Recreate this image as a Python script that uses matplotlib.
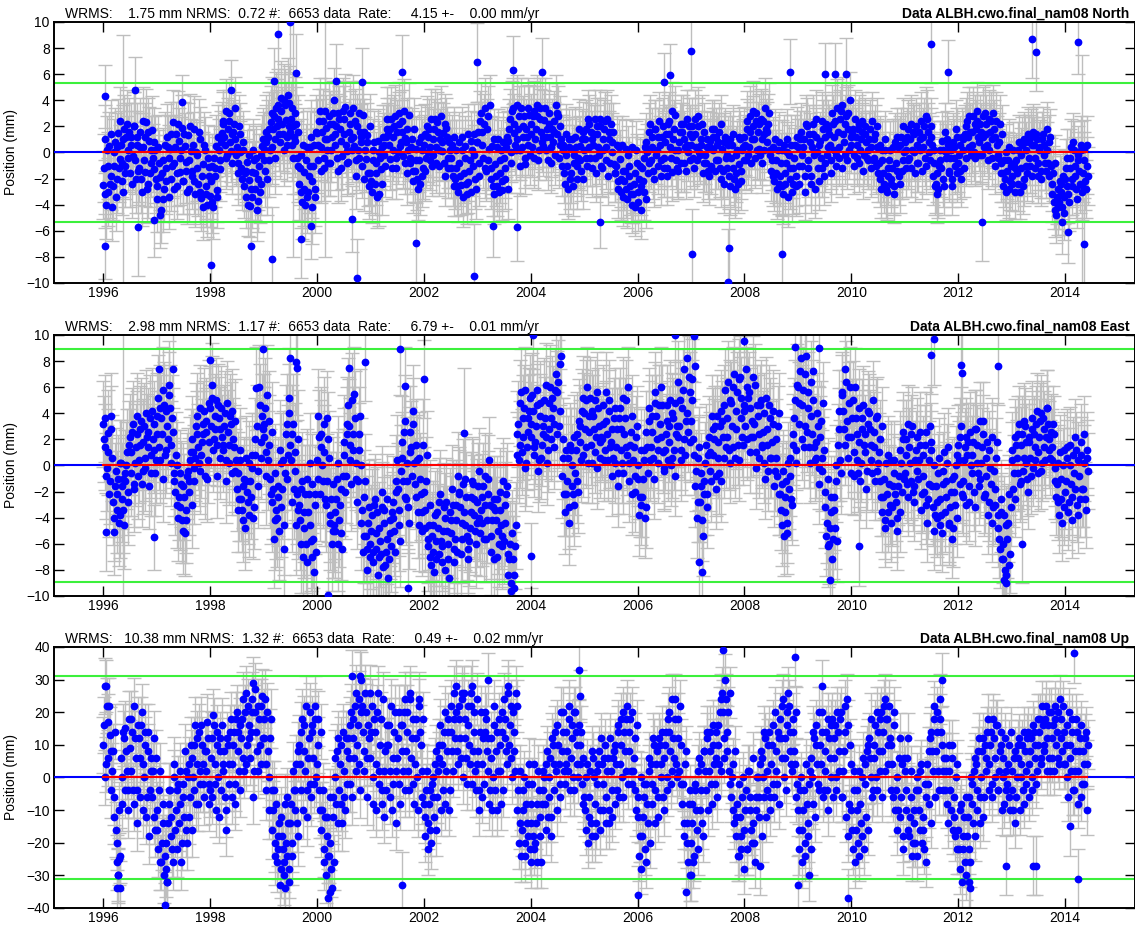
import numpy as np
import matplotlib
matplotlib.use('Agg')
import matplotlib.pyplot as plt

plt.rcParams['font.family'] = ['Liberation Sans', 'DejaVu Sans']

# ~10-day samples starting 1996.0 (mm)
north = [
    # 1996
    -2.5, 1.0, -4.0, -3.0, 0.5, -1.8, -4.2, -1.0, 0.8, -2.0, 1.5, -0.5,
    0.6, -2.2, 1.8, -1.0, 2.2, 0.2, -1.6, 1.2, -0.3, 2.0, -2.0, 0.6,
    -1.2, 1.6, -3.0, 0.4, -1.5, 2.3, -2.4, 0.9, -0.8, 1.7, -1.3, 0.2,
    # 1997
    -3.6, 0.4, -1.9, -4.4, -0.6, -2.8, -1.2, 1.2, -3.4, 0.3, -2.0, 2.3,
    -0.8, 1.4, -2.6, 0.9, -1.5, 1.9, -2.2, 0.5, -0.7, 1.3, -2.8, 0.1,
    -1.4, 1.8, -3.2, -0.2, -2.4, 1.0, -3.5, -0.9, 0.6, -2.6, -4.0, -1.1,
    # 1998
    -3.3, -1.0, -4.2, -1.8, 0.5, -2.9, 0.2, -1.3, 1.5, 2.4, 0.6, -0.4,
    1.8, 3.0, 0.1, -0.8, 2.2, 1.0, 0.4, -1.6, 1.4, -1.2, 0.8, -2.6,
    -3.4, -0.7, -2.1, -4.1, -1.5, 0.2, -2.8, -0.4, -3.7, -1.0, -2.4, 0.5,
    # 1999
    0.3, -1.4, 1.6, 1.2, -0.6, 2.3, 0.4, 2.8, 1.0, 2.0, 3.6, 0.8,
    3.2, 1.4, 4.0, 2.5, 0.6, 3.8, 1.6, 3.4, -0.4, 0.9, 2.2, -1.0,
    -2.4, -0.2, -3.8, -1.5, -4.0, 0.4, -3.0, -1.0, 1.2, -2.2, 0.6, -3.4,
    # 2000
    1.5, -0.6, 3.2, 0.4, 2.4, -1.2, 1.9, 0.2, 2.8, -0.8, 1.2, 3.0,
    0.6, 2.0, -1.4, 2.6, 0.9, -0.3, 1.4, 3.5, 0.1, -0.7, 2.2, 1.0,
    3.4, 0.5, -1.8, 2.0, -0.4, 1.6, 0.8, 2.9, -2.0, -0.5, 1.3, -2.6,
    # 2001
    -1.6, -3.0, 0.2, -2.4, -0.8, 0.9, -3.2, -1.3, 0.4, 0.6, -1.0, 1.8,
    1.4, -0.5, 2.6, 0.2, 2.0, -1.2, 1.6, 3.0, 0.5, 2.4, -0.3, 1.1,
    0.8, -1.6, 2.9, -0.4, 1.0, -2.2, -1.4, 0.3, -2.8, -0.6, 1.2, -1.8,
    # 2002
    0.6, -1.4, 2.0, 1.2, -0.6, 2.6, -0.2, 1.8, 0.4, 2.3, -1.0, 1.0,
    0.1, 1.5, -1.8, 1.9, -0.4, 0.8, -1.2, 0.6, -2.6, -2.0, 0.2, -3.0,
    -0.8, -2.5, 1.2, -1.6, 0.5, -3.2, -2.3, -0.6, 0.9, -1.0, 1.4, -2.8,
    # 2003
    0.8, -1.8, 2.4, 1.6, -0.4, 3.4, -1.4, 2.8, 0.3, -2.0, 0.5, -3.2,
    -0.9, -2.6, 1.0, -1.6, 0.2, -2.9, -0.4, -2.0, 1.2, 0.9, 2.6, -0.8,
    3.4, 1.5, 0.2, 1.0, 2.8, -1.0, 0.4, 2.0, -0.9, 1.8, 0.6, 2.9,
    # 2004
    2.2, 0.4, 3.2, 1.0, 2.8, -0.6, 3.4, 1.6, 0.5, 2.5, 0.2, 1.8,
    3.0, 1.2, -0.8, 0.8, 2.4, 3.6, 1.4, -0.4, 2.0, -1.0, 0.6, -2.4,
    -0.2, -2.8, 1.0, -1.6, 0.3, -0.8, 1.2, -2.0, -0.4, 0.5, -1.4, 1.6,
    # 2005
    0.2, 1.8, -1.0, 2.2, -0.4, 1.0, 0.6, 2.6, -1.6, 1.4, -0.2, 2.0,
    -1.2, 1.0, 2.4, 0.4, -1.8, 1.6, 2.2, 0.0, -0.9, -1.6, 0.6, -2.8,
    -0.5, -3.0, -1.4, -2.2, 0.3, -3.6, -1.0, -2.6, -4.0, -3.2, -1.6, 0.2,
    # 2006
    -3.8, -2.0, -4.4, -1.2, -3.0, 0.4, 0.8, -1.6, 1.6, -0.6, 1.2, -2.0,
    1.8, 0.2, -1.0, 0.6, -1.8, 2.0, -0.4, 1.4, -1.2, 2.4, 0.4, -1.5,
    1.0, 2.9, -0.6, -1.4, 0.8, 2.2, 1.6, -0.8, 0.4, 2.6, 0.0, 1.4,
    # 2007
    0.6, 2.0, -1.2, 1.4, -0.6, 2.8, -0.2, 1.0, -1.6, 1.6, -0.8, 0.4,
    -1.8, 0.9, 1.8, 0.2, -1.4, 1.2, -0.6, 1.6, -2.0, 0.3, -2.4, 1.2,
    -1.2, 0.6, -2.6, -0.4, 1.4, -2.0, -1.6, 0.2, -0.9, 1.0, -2.2, 0.4,
    # 2008
    1.2, -0.6, 2.4, 0.4, 2.8, 1.0, 2.0, -0.4, 3.0, 1.6, 0.3, 2.6,
    -0.8, 1.4, 3.4, 0.8, 2.2, -0.2, -1.4, 0.4, -2.2, -0.6, -2.8, 0.8,
    -1.8, 0.2, -3.2, -2.4, -0.8, 1.0, -0.2, -2.0, -3.0, -1.2, 0.6, -2.6,
    # 2009
    0.4, -2.4, 1.6, -1.0, 1.0, -3.0, 2.0, -0.6, 0.8, -1.8, 1.4, -0.2,
    2.6, 0.0, -2.2, 0.9, -1.2, 1.8, -0.8, 2.2, 0.4, 1.4, -1.6, 3.0,
    0.2, 2.4, -1.0, 1.6, -0.4, 3.2, 3.6, 0.8, 2.2, -0.6, 1.8, 4.0,
    # 2010
    0.6, 1.8, -1.0, 1.2, -0.4, 2.2, 0.2, 1.6, -1.4, 2.0, 0.8, -0.6,
    1.0, -1.2, 2.4, -0.4, 1.4, 0.4, -1.6, 0.6, -2.8, -0.6, -2.4, 1.0,
    -3.0, -1.2, 0.2, -2.0, 0.4, -3.2, -0.8, 1.2, -1.8, 0.6, -1.4, 2.0,
    # 2011
    0.8, -1.2, 1.8, -0.4, 2.2, 0.2, 1.4, -1.6, 0.6, -0.8, 1.0, 2.4,
    0.4, 2.0, -1.0, 2.6, 0.8, -0.6, 1.2, -1.8, 0.2, -2.4, -3.2, -1.0,
    -0.6, 0.9, -2.0, 1.6, -0.4, 0.6, -1.4, 0.2, -2.6, 0.4, -1.0, 1.2,
    # 2012
    -0.8, 0.6, -2.0, 1.0, -1.2, 2.0, 2.4, 0.4, 1.6, 0.6, 2.8, -0.4,
    1.8, 3.2, 0.8, 2.2, -0.2, 1.2, 3.0, 1.4, -0.6, 0.2, 2.4, 1.0,
    1.8, -1.0, 0.6, -0.4, 2.2, -1.6, -2.6, -0.6, -3.0, -1.4, 0.4, -2.2,
    # 2013
    -1.8, 0.2, -3.0, -0.6, -2.4, 0.8, -1.2, 0.6, -2.0, 0.8, -1.0, 1.4,
    -0.4, 1.2, -1.8, 0.6, -1.2, 1.0, -0.8, 0.4, -2.0, 1.4, -0.2, -1.4,
    0.2, -1.8, 1.2, -3.2, -1.6, -4.4, -4.8, -2.8, -3.8, -2.4, -4.2, -3.4,
    # 2014
    -2.0, -0.4, -3.2, -1.2, 0.4, -2.6, 0.2, -1.8, -3.6, -0.6, -2.4, 0.6,
    -1.6, 0.3, -2.8, -1.0,
]

# second reading, 5 days after each sample above
north_b = [
    # 1996
    -1.2, -3.2, 0.2, -1.0, -2.4, 1.4, -2.6, 0.0, -3.4, 0.4, -1.2, 2.4,
    -0.8, 1.0, -1.6, 1.2, -0.4, 1.6, 0.6, -2.4, 2.0, -0.6, 1.2, -1.4,
    0.4, -2.0, 2.4, -0.6, 1.2, -2.8, 1.6, -1.6, 0.2, -0.4, 0.8, -2.0,
    # 1997
    -2.6, -0.8, -4.8, -1.6, -3.6, 0.6, -2.2, 0.4, -0.4, 1.4, -1.0, -2.8,
    0.4, -1.6, 2.2, -0.4, 0.2, -2.2, 1.4, -1.4, -3.0, -0.6, 2.0, -1.8,
    0.6, -2.2, 0.0, -1.2, 1.6, -3.0, -1.8, -4.2, 0.2, -3.2, -0.4, -1.8,
    # 1998
    -2.2, -3.8, -0.4, -1.2, -3.4, 1.2, -0.6, 0.8, 2.2, 1.2, 3.2, -0.2,
    2.4, 0.8, 1.4, 1.6, 3.4, -0.2, -0.8, 2.0, 0.0, -2.0, 0.2, -1.6,
    -1.4, -4.0, -0.2, -2.8, -3.4, -0.6, -1.6, -4.4, -2.0, -3.0, -0.2, 1.0,
    # 1999
    -0.6, 0.8, -2.0, 1.8, 0.2, 3.0, 1.8, -0.4, 3.4, 2.6, 1.4, 4.2,
    2.2, 0.2, 3.6, 1.2, 4.4, 2.0, 2.6, 0.6, 1.2, 3.0, -0.4, 1.6,
    -1.2, -3.0, 0.6, -2.8, -0.6, -3.4, -1.8, 0.4, -4.2, -1.0, -2.8, 1.6,
    # 2000
    0.6, 2.4, -1.4, 1.6, -0.4, 3.2, 1.0, -0.8, 2.2, 0.2, 2.2, 4.0,
    1.4, -0.4, 3.0, 1.8, -1.2, 3.2, 2.6, 0.6, -0.8, 1.6, 3.0, 0.2,
    1.2, 2.4, -0.6, 0.2, 3.0, 1.2, -1.0, 1.6, 0.2, 0.8, -1.6, 2.0,
    # 2001
    -2.2, -0.6, 0.8, -1.6, -3.4, 0.0, -0.4, -2.4, 1.2, -0.2, 1.2, 2.6,
    0.6, 1.8, -1.2, 1.2, 2.8, -0.4, 0.0, 2.2, 0.8, 1.6, 3.2, -0.8,
    1.8, 0.2, -0.8, 0.4, -1.4, 1.8, -0.6, -2.0, 0.8, -2.4, 0.2, -1.2,
    # 2002
    1.4, -0.4, 0.0, 1.8, 0.4, -1.0, 1.0, 2.6, -0.8, 1.6, 0.2, 2.8,
    0.8, -0.8, 2.2, 1.2, -1.2, 0.2, -0.4, -1.8, 1.2, -1.2, -2.6, 0.8,
    -1.8, 0.2, -3.4, -0.4, -2.4, 1.4, -1.4, -3.0, 0.2, -0.2, -2.0, 0.8,
    # 2003
    1.6, -0.8, 3.0, 0.6, 2.2, -1.2, 1.8, -0.6, 3.6, -1.2, -2.6, 1.0,
    -1.8, 0.4, -3.0, -0.6, -2.2, 0.8, -1.2, 0.4, -2.8, 1.8, 0.0, 3.2,
    2.2, 0.6, 3.6, 1.8, 0.2, 3.4, 1.2, 2.8, -0.4, 1.2, 3.4, -0.2,
    # 2004
    1.4, 2.8, -0.4, 1.8, 3.6, 0.2, 2.6, 0.8, 1.2, 3.4, 1.2, -0.6,
    2.2, 0.4, 1.8, 1.6, -0.2, 3.0, 2.8, 0.6, 1.0, 0.2, -1.6, 1.4,
    -1.0, 0.4, -2.0, 1.0, -2.6, -0.2, 0.4, -1.0, 1.8, -0.6, 1.0, -2.0,
    # 2005
    1.0, -0.4, 2.6, 0.4, 1.6, -1.2, 1.4, -0.4, 2.0, 0.4, 2.6, -1.0,
    0.2, 1.8, -0.6, 2.6, 1.0, -0.8, 0.8, 1.6, -1.6, -1.0, -2.2, 0.4,
    -2.0, 0.6, -3.4, -1.4, -2.8, -0.2, -1.8, -3.2, 0.4, -2.4, -4.2, -0.8,
    # 2006
    -3.0, -1.0, -2.6, -2.2, -0.4, -3.6, 0.0, -0.8, 2.2, 0.4, -1.4, 1.8,
    -0.2, 1.2, 2.4, -0.6, 1.2, -1.2, 0.8, -1.8, 2.2, 1.4, -0.4, 3.2,
    1.8, 0.2, -1.2, 0.2, 1.6, -0.8, 2.2, 1.0, -1.4, 0.6, 2.0, -0.6,
    # 2007
    1.2, -0.4, 2.6, 0.4, 2.0, 0.0, 0.6, 2.2, -0.8, -0.2, 1.0, -1.4,
    0.4, -1.0, 1.2, 1.8, -0.6, 0.6, 0.8, -1.2, 2.2, -1.4, 0.8, -0.4,
    -0.2, -1.8, 1.0, 0.6, -1.2, -2.8, -0.2, -2.4, 1.2, -1.4, 0.2, -0.6,
    # 2008
    0.6, 1.8, -0.2, 1.6, -0.8, 3.2, 1.0, 2.4, 0.2, 2.2, -0.2, 1.0,
    2.4, 0.2, 1.8, 1.6, 3.0, 0.2, -0.6, -1.8, 1.0, -1.6, 0.2, -2.4,
    -0.8, -2.6, 0.6, -1.6, 0.0, -3.4, -1.2, 0.6, -2.4, -0.4, -1.8, 1.2,
    # 2009
    -1.0, 1.0, -0.2, 0.4, -1.8, 2.2, -1.2, 1.4, -2.4, 0.4, 2.2, -2.8,
    1.2, -1.2, 0.6, -0.4, 2.4, -1.8, 1.2, -0.2, 1.8, 0.6, -0.6, 2.2,
    1.2, -0.2, 3.4, 0.4, 2.6, -1.2, 1.4, -0.2, 2.8, 3.0, 0.2, 1.2,
    # 2010
    1.4, -0.2, 2.6, 0.6, 1.8, -0.8, 1.0, 2.4, -0.2, 1.4, -0.4, 0.2,
    1.8, 0.4, -0.6, 1.0, -1.0, 2.0, -0.8, -2.0, 0.2, -1.6, 0.2, -2.8,
    -1.8, -0.6, -2.4, -1.2, -2.6, 0.8, -1.4, 0.4, -2.4, 1.2, -0.6, 0.0,
    # 2011
    0.2, 1.2, -0.6, 1.0, -1.2, 1.6, 0.0, 2.0, -0.8, 1.6, 0.2, -1.4,
    1.2, -0.4, 2.8, 1.6, 0.0, 2.0, 0.6, -0.8, -2.6, -1.6, -2.8, 0.2,
    -1.2, 0.2, -2.6, 0.0, 1.0, -1.6, -0.4, -2.0, 0.8, -0.4, 1.8, -1.6,
    # 2012
    -0.2, -1.4, 1.2, 0.2, 1.4, -0.4, 1.2, 2.8, -0.2, 1.6, 0.0, 2.2,
    2.4, 1.2, -0.2, 1.6, 2.8, 0.4, 2.2, 0.6, 2.6, 1.6, -0.4, 3.0,
    1.2, 2.4, -0.2, 0.8, -0.8, 1.4, -1.6, -2.0, 0.0, -0.6, -2.8, -1.0,
    # 2013
    -2.4, -0.8, -1.2, -1.6, 0.2, -3.0, -0.2, -2.6, 1.0, 0.2, -1.6, 0.8,
    -1.0, 0.6, 1.6, -0.4, 1.4, -1.8, 0.2, -1.4, 1.0, 0.6, -0.8, 1.8,
    -0.8, 0.8, -1.0, -2.4, -3.8, -0.8, -3.4, -4.2, -2.2, -3.0, -1.8, -4.6,
    # 2014
    -1.2, -2.6, -3.8, -0.4, -2.0, 0.8, -1.0, -2.8, -0.2, -1.4, 0.2, -3.0,
    -0.6, -2.2, 0.6, -1.8,
]

east = [
    # 1996
    3.2, 1.4, -0.8, 2.5, -2.2, 3.8, 0.6, -5.1, -1.6, -3.4, -1.0, -3.8,
    0.2, -2.6, -4.6, -1.2, 1.0, -2.8, 2.2, -0.6, 3.2, -1.8, 1.4, 3.8,
    0.4, 2.8, -1.4, 1.8, -0.2, 4.0, 2.6, -1.6, 0.8, 4.2, 1.2, -0.6,
    # 1997
    2.4, 5.2, 0.4, 3.6, -1.0, 4.6, 1.2, 3.0, 5.4, 4.4, 0.2, 2.6,
    -1.2, 0.8, -3.0, -2.4, -0.6, -4.2, -1.6, -5.2, -3.4, -0.4, -2.0, 1.0,
    2.0, -1.2, 0.6, 3.8, 1.4, -0.4, 0.8, 3.2, 4.2, 2.6, -1.0, 1.8,
    # 1998
    4.4, 6.2, 1.2, 2.8, 5.0, -0.8, 3.6, 0.6, 2.2, 1.6, 4.0, -1.2,
    2.6, 0.2, 3.2, 4.2, 1.4, -0.4, -1.8, -3.4, 0.4, -2.6, -4.2, -1.0,
    0.6, -2.0, -3.8, -1.2, 0.8, -4.0, 2.0, 5.9, -1.6, 6.0, 0.6, 3.8,
    # 1999
    2.2, 4.4, -0.8, 0.4, 3.4, -2.2, -2.8, -5.6, -0.6, -4.0, -1.6, 1.2,
    -3.2, 0.4, -6.4, 2.4, -1.0, 4.0, 1.6, -2.8, 3.2, -0.4, -4.6, 2.0,
    -3.0, -6.0, -1.2, -4.8, -2.2, -7.4, -3.6, 0.2, -5.8, -1.4, -8.2, -3.0,
    # 2000
    0.4, 3.8, -2.2, 2.4, -1.2, 1.0, -3.0, 3.6, 0.6, -3.8, -6.0, -1.4,
    -5.0, -2.6, 0.2, -4.2, -1.8, -6.4, 0.8, -2.0, 3.2, 4.6, 1.6, -1.4,
    2.4, 5.5, 0.2, -2.8, 1.2, 3.8, -4.4, -6.6, -2.4, -5.4, -8.0, -3.2,
    # 2001
    -6.0, -3.8, -7.4, -2.6, -5.2, -8.4, -4.8, -6.8, -2.0, -3.4, -7.6, -5.6,
    -8.6, -4.2, -6.2, -2.8, -5.0, -1.2, 0.4, -3.4, -5.8, 1.8, -1.2, 3.4,
    -2.6, 0.2, -4.4, 2.6, -0.8, 4.2, -1.4, 1.6, -3.6, 0.6, -2.2, -5.0,
    # 2002
    -2.0, -4.8, 0.8, -6.2, -3.0, -7.6, -4.6, -8.2, -5.8, -3.6, -6.8, -2.2,
    -7.4, -5.0, -4.0, -2.8, -6.0, -8.6, -4.2, -1.8, -6.4, -5.6, -3.0, -0.8,
    -2.2, -6.8, -4.4, -3.6, -1.0, -5.4, -7.2, -4.8, -2.4, -1.4, -3.8, -6.0,
    # 2003
    -2.8, -0.4, -5.2, -4.4, -1.6, -3.0, -5.6, -2.2, 0.4, -6.6, -4.2, -2.6,
    -3.4, -7.0, -5.0, -2.0, -4.6, -6.2, -5.8, -3.0, -1.6, -8.4, -6.0, -9.6,
    -7.2, -9.4, -4.6, 2.4, 0.4, 4.8, 1.0, 3.6, 5.8, 0.2, 2.6, 4.2,
    # 2004
    3.2, 5.4, 0.8, 1.8, 4.6, -0.4, 3.8, 0.6, 2.4, 5.0, 2.2, 0.2,
    2.8, 6.0, 3.6, 4.4, 1.4, 7.0, 5.6, 3.0, 7.8, -0.8, 2.0, -3.6,
    -2.2, 0.6, -4.4, 1.2, -1.6, -3.0, -0.6, 2.4, -2.0, 3.0, 0.4, 5.2,
    # 2005
    4.0, 1.4, 6.0, 2.6, 5.2, 0.2, 3.8, 1.0, 2.2, 5.6, 3.0, 0.6,
    2.0, 4.6, 1.2, 3.4, 0.4, 5.0, 1.8, -0.8, 3.6, 0.2, 2.8, -1.6,
    4.4, 1.2, -0.6, 2.4, 5.0, 0.8, -1.2, 1.6, 3.8, 0.4, -2.0, 2.2,
    # 2006
    -1.0, -3.8, 1.2, -2.4, 0.4, -4.0, 2.6, -0.6, 4.4, 1.4, 3.8, -1.0,
    5.6, 2.0, 0.2, 3.2, 6.0, 1.0, -0.4, 2.4, 4.6, 1.8, 5.0, 0.6,
    3.6, -0.8, 2.4, 6.4, 3.0, 1.2, 4.4, 7.4, 0.8, 8.2, 2.6, 5.6,
    # 2007
    3.4, 6.6, 0.8, -1.6, -4.0, 0.6, -2.8, -0.6, -5.4, -1.2, 1.6, -3.2,
    2.2, -0.4, 3.8, 0.8, 3.0, -1.8, 1.8, -0.6, 4.2, 3.4, 0.6, 5.8,
    2.2, 6.4, 0.2, 4.8, 1.4, 7.0, 2.8, 5.6, 0.4, 6.8, 3.6, 1.6,
    # 2008
    4.2, 7.4, 2.0, 5.6, 1.0, 3.4, 2.2, 6.2, -0.2, 3.8, 0.6, 5.0,
    1.4, 4.0, -1.0, 2.8, -0.4, 3.6, 0.6, 3.2, -1.6, 2.0, -0.8, 4.0,
    -2.2, -4.6, -0.4, -3.6, -1.2, -5.2, -1.8, 0.6, -3.0, 2.4, 5.0, 0.2,
    # 2009
    6.0, 3.2, 8.2, 4.6, 1.4, 7.0, 2.6, 5.6, 0.2, 3.8, 7.2, 1.4,
    0.6, 4.0, -1.4, 2.2, -0.4, 4.8, -3.2, -5.4, -1.0, -6.0, -3.6, -7.2,
    -2.4, -4.8, 0.0, 1.6, 4.2, -0.6, 5.6, 2.8, 7.4, 3.4, 0.6, 6.0,
    # 2010
    2.2, 5.0, -0.8, 3.6, 0.4, 1.8, -1.2, 2.8, 4.6, 1.0, -1.8, 3.2,
    4.0, 1.6, -0.6, 2.6, -1.2, 3.8, 0.2, 2.0, -2.4, -3.6, -1.0, -4.8,
    -2.2, 0.8, -3.0, -4.4, -1.6, 0.4, -2.8, -5.0, -0.8, 1.2, -2.0, 2.6,
    # 2011
    -0.6, 2.0, -2.4, 1.4, -1.2, 3.0, -2.8, 0.4, 2.2, -1.0, 1.6, -3.4,
    0.8, -2.0, 2.6, -4.4, -1.4, 3.0, 1.2, -3.2, -5.0, -1.6, -4.0, 0.6,
    -2.6, -5.2, -0.4, -3.6, -1.2, 1.4, -4.4, -2.0, -5.6, -0.8, -3.0, 0.8,
    # 2012
    1.6, -1.4, 3.0, -2.4, 0.4, 2.2, 0.8, -2.8, 2.6, -0.6, 1.8, -3.2,
    2.8, 0.2, -1.6, -1.0, 1.4, 3.4, -2.2, 0.6, -3.8, 1.2, -1.4, -4.4,
    -0.4, -3.0, 1.8, -4.8, -6.4, -2.6, -7.2, -3.8, -8.4, -5.6, -2.2, -6.8,
    # 2013
    0.4, -1.8, 2.2, 1.6, -0.6, 3.2, -1.2, 2.4, 0.6, 3.0, 0.2, -2.0,
    1.8, -0.8, 2.8, 2.4, 0.4, 4.2, 1.0, 3.4, -0.4, 3.6, 1.4, 2.2,
    4.4, 2.0, 0.6, 1.4, 3.2, -1.2, -2.4, 0.2, -3.8, -1.0, -4.4, 1.2,
    # 2014
    -2.0, 0.6, -3.6, 1.6, -1.4, -4.2, -0.6, 2.2, -3.0, 0.4, -2.6, 1.8,
    -1.8, 2.4, -3.4, 0.6,
]

east_b = [
    # 1996
    2.0, 3.6, -0.2, 1.0, -1.2, 2.8, -2.8, -4.0, -0.4, -2.2, -4.4, 0.2,
    -1.6, -3.4, -0.6, 0.0, -2.0, 1.6, 1.0, 2.6, -1.4, 0.2, 2.4, -0.8,
    1.6, 3.4, -0.4, 3.0, 0.6, 2.2, 1.4, 3.6, -0.6, 2.0, 3.2, 0.4,
    # 1997
    3.8, 1.4, 4.4, 2.4, 5.8, 0.8, 4.2, 2.0, 6.2, 1.6, 3.6, -0.6,
    -2.0, 0.0, -4.0, -3.2, -1.4, -5.0, -2.4, -4.2, -0.8, -1.2, 0.4, -3.0,
    1.0, -0.2, 3.0, 2.4, 0.2, 4.4, 1.8, 2.4, -0.8, 3.4, 0.4, 4.8,
    # 1998
    3.0, 5.2, 2.0, 3.8, 1.6, 4.6, 2.8, 4.4, 1.2, 3.0, 0.4, 4.8,
    1.6, 3.8, -0.6, 2.0, 3.4, 0.4, -0.6, -2.6, 1.2, -3.4, -1.6, -4.8,
    -1.2, -2.8, 0.2, -2.4, -0.2, -3.2, 0.8, 3.0, -0.4, 4.6, 1.8, 2.8,
    # 1999
    3.2, 1.0, 5.4, 1.6, -1.0, 2.6, -1.8, -4.2, -3.4, -2.4, -5.0, 0.2,
    -1.8, -4.6, -0.6, 3.2, 0.8, 5.2, 0.4, 2.4, -1.8, 1.0, -2.2, -3.4,
    -4.2, -1.8, -7.0, -3.6, -6.0, -1.0, -2.2, -4.6, -7.0, -5.6, -2.2, -6.6,
    # 2000
    -1.0, 2.2, 1.4, 0.0, 3.2, -2.6, -1.2, 2.0, -4.4, -2.6, -5.0, -4.6,
    -3.6, -1.0, -6.0, -3.0, -5.2, -0.8, 1.8, -0.8, 2.4, 3.0, 0.4, 5.0,
    1.2, 3.6, -1.0, -1.2, 2.4, 0.0, -3.4, -5.4, -1.2, -6.4, -4.4, -7.0,
    # 2001
    -5.0, -6.6, -3.0, -6.4, -3.6, -7.0, -5.8, -3.2, -7.8, -4.4, -6.6, -2.6,
    -7.2, -5.2, -3.6, -4.0, -6.6, -2.0, -1.8, -4.6, -0.4, 0.6, 2.6, -2.4,
    -1.2, -3.2, 1.0, 1.4, 3.2, 0.2, -2.4, 0.4, -4.6, -1.0, -3.6, 1.6,
    # 2002
    -3.4, -1.2, -5.6, -4.6, -7.0, -5.4, -6.6, -3.8, -7.2, -4.8, -2.8, -5.8,
    -6.2, -3.2, -8.0, -5.0, -7.2, -3.6, -5.2, -3.0, -7.4, -4.2, -6.6, -2.0,
    -3.2, -5.6, -1.4, -4.6, -2.4, -6.4, -5.8, -3.6, -1.2, -2.6, -5.0, -4.4,
    # 2003
    -1.6, -4.0, -3.4, -2.4, -5.6, -0.8, -4.2, -1.0, -3.0, -5.4, -3.2, -7.2,
    -4.2, -2.6, -6.0, -3.4, -5.4, -1.2, -4.4, -2.2, -6.8, -7.2, -9.0, -5.2,
    -8.4, -6.2, 0.8, 3.2, 1.6, 5.6, 2.2, 4.4, -0.2, 1.4, 3.6, 5.2,
    # 2004
    2.2, 4.2, 1.4, 3.0, 5.8, 0.4, 4.8, 1.6, 3.0, 3.6, 6.2, 1.2,
    4.8, 2.0, 5.2, 3.2, 5.8, 2.4, 6.4, 4.2, 8.4, 0.6, -2.2, 1.2,
    -1.2, -3.2, 1.6, 0.0, -2.2, 2.2, 1.2, -1.2, 3.4, 1.8, 4.2, 0.8,
    # 2005
    2.8, 5.0, 0.2, 3.8, 1.6, 4.2, 2.8, 5.0, -0.2, 4.4, 1.8, 2.2,
    3.2, 0.4, 5.6, 2.4, 4.2, 1.4, 2.8, 0.6, 4.4, 1.4, -0.6, 3.6,
    2.8, 0.2, 5.2, 3.6, 1.4, 6.0, 0.2, 2.6, -2.2, 1.4, -0.8, 3.0,
    # 2006
    0.0, -2.4, -3.0, -1.0, 1.2, -3.2, 1.4, 3.4, 0.4, 2.6, 0.6, 4.8,
    3.8, 1.2, 4.6, 2.2, 4.6, -0.2, 1.2, 3.4, 0.4, 3.0, 0.0, 4.0,
    1.2, 4.8, 3.0, 2.2, 5.0, 0.4, 5.8, 2.0, 3.4, 4.0, 6.8, 1.8,
    # 2007
    5.0, 2.0, 7.6, -0.4, -2.8, 1.4, -1.6, -4.2, -2.2, 0.2, -2.2, 0.8,
    1.0, -1.2, 2.8, 2.0, -0.8, 3.8, 0.6, 3.0, -1.2, 2.2, 4.6, 1.4,
    3.6, 1.2, 5.0, 3.0, 6.0, 0.6, 4.2, 1.6, 6.6, 5.2, 2.2, 4.6,
    # 2008
    3.0, 6.0, 5.2, 4.4, 2.2, 6.8, 3.2, 1.0, 4.6, 2.4, 4.6, 1.6,
    2.6, 0.2, 5.2, 1.6, 4.6, 0.6, 1.8, 4.2, -0.4, 0.6, 3.0, -2.2,
    -3.4, -1.4, -5.4, -2.4, -4.4, 0.2, -0.8, -2.6, 1.6, 3.6, 1.2, 6.2,
    # 2009
    4.8, 7.2, 2.0, 5.8, 3.0, 8.4, 4.4, 1.4, 6.4, 2.4, 5.0, 0.4,
    1.8, 3.0, -0.2, 3.4, 0.6, 1.2, -2.0, -4.4, -6.2, -4.8, -2.4, -5.6,
    -3.4, -1.2, -5.8, 2.8, 0.4, 5.4, 4.2, 1.6, 6.4, 2.2, 4.8, -0.6,
    # 2010
    3.6, 1.0, 6.0, 2.4, -0.6, 4.4, 0.2, 3.6, 1.6, 2.4, -0.4, 4.2,
    2.8, 0.4, 5.0, 1.4, 3.6, -0.4, 1.0, -1.2, 3.0, -2.4, -4.2, 0.2,
    -3.6, -1.4, 0.4, -3.2, -0.6, -2.2, -4.0, -1.6, -3.6, 0.2, 2.0, -1.0,
    # 2011
    0.8, -1.4, 3.2, 0.2, 2.4, -2.0, -1.6, 1.2, -0.4, 0.4, 2.6, -2.2,
    -0.8, 1.6, -3.0, -2.6, 0.4, 1.8, -1.6, 0.0, -3.8, -2.8, -0.6, -4.6,
    -3.8, -1.4, 1.0, -2.4, 0.2, -4.6, -3.2, -1.0, -4.8, -2.0, 0.0, -4.0,
    # 2012
    0.4, 2.2, -2.2, -1.2, 1.4, -3.0, 1.8, -1.6, 0.0, 0.8, -2.0, 2.8,
    1.6, -0.6, 3.4, 0.2, 2.4, -2.4, -0.8, 1.8, -2.8, -0.2, 2.2, -3.2,
    -1.8, 0.6, -3.8, -5.6, -3.6, -7.2, -6.0, -8.0, -4.6, -4.4, -7.6, -3.2,
    # 2013
    1.2, -0.6, -2.6, 0.6, 2.4, -1.4, 1.6, -0.4, 3.4, 1.8, -1.0, 2.2,
    0.6, 3.6, -0.2, 1.4, 3.2, -0.6, 2.2, 4.0, 0.2, 2.8, 0.4, 4.4,
    3.2, 1.2, 2.6, 0.4, 2.4, -0.2, -1.4, -2.8, 1.0, -2.6, 0.0, -3.2,
    # 2014
    -1.2, 1.4, -2.8, 0.0, -2.4, 0.8, -1.8, 1.2, -3.8, -0.8, 0.8, -1.8,
    0.2, -2.6, 1.2, -0.4,
]

up = [
    # 1996
    10, 28, 4, 17, 22, 8, 2, -12, 14, -20, -30, -34,
    6, -8, 12, 15, 2, -10, 9, 18, -4, 22, 6, -14,
    12, -6, 20, 4, 14, -12, 8, -18, 2, -6, 12, -16,
    # 1997
    -10, -22, 2, -26, -14, -30, -20, -32, -8, -4, -18, -26,
    4, -10, -22, -14, 2, -20, -6, 8, -16, 0, -12, 10,
    6, -4, 16, 12, -8, 2, 16, 4, -6, 8, 17, -2,
    # 1998
    -4, 12, 19, 4, -10, 14, -12, 8, 16, 2, -6, -16,
    10, -2, 18, 4, 14, -8, 20, 8, -4, 12, 24, 2,
    26, 10, 16, 6, 20, -6, 27, 14, 2, 18, 4, 25,
    # 1999
    12, 24, -4, 8, -10, 18, -16, -4, -24, -26, -18, -33,
    -12, -22, -30, -20, -6, -28, -14, -24, 2, -10, 4, -18,
    10, -4, 18, 16, 2, -12, 6, 20, -6, 14, -2, 22,
    # 2000
    4, 18, -10, -16, -4, -22, -30, -12, -24, -20, -34, -6,
    6, -8, 12, -4, 10, -14, 2, -10, 8, 12, -2, 20,
    18, 6, 26, 10, 24, -4, 30, 14, 2, 20, -6, 12,
    # 2001
    6, 22, -8, 14, -10, 26, 2, 18, -4, -12, 8, 16,
    10, -6, 22, -2, 14, -14, 6, 20, -8, 16, 2, 24,
    8, 20, -4, 26, 12, -2, 4, 18, -10, 22, 10, -6,
    # 2002
    -8, -18, 2, -14, -4, -20, 0, -12, 8, -6, 6, 16,
    10, -4, 20, 2, 14, -10, 22, 8, 26, 12, 28, 4,
    18, 6, 24, 26, 12, -2, 16, 4, 22, 8, 20, -4,
    # 2003
    4, -10, 14, -6, 12, 20, 18, 2, -8, 6, -10, 16,
    -4, 14, 2, 10, -8, 20, 24, 12, 4, 28, 16, 6,
    20, 8, 26, -10, -20, 2, -16, -4, -24, -8, -18, 4,
    # 2004
    -14, -2, -22, -20, -8, 2, -12, -26, -4, 0, -16, 8,
    -6, 6, -18, 10, -4, 2, 16, 4, -6, 8, 20, -2,
    14, 2, 18, 6, 16, -4, 20, 10, 0, 4, 14, -8,
    # 2005
    -6, -16, 4, -12, 2, -18, 6, -8, -14, -2, 8, -16,
    4, -10, 10, -6, 6, -14, 2, -12, 8, 10, -4, 16,
    4, 18, -6, 14, 2, 22, 8, 18, -2, 2, 12, -10,
    # 2006
    -12, -24, 0, -18, -6, -22, -2, -14, 6, 4, -8, 10,
    -4, 8, -12, 10, 0, -6, 6, 14, -4, 20, 8, 2,
    12, 24, 4, 18, 2, 10, -8, -18, 4, -14, -26, -4,
    # 2007
    -20, -8, -24, -4, -16, 2, -10, 4, -18, 8, -4, 12,
    2, 14, -8, 10, -2, 6, 16, 4, 24, 26, 12, 30,
    8, 20, -2, -6, 4, -14, -18, -8, -24, -12, -22, 0,
    # 2008
    -16, -4, -22, 2, -10, -20, -14, -26, -6, 0, -12, 8,
    6, -6, 12, -4, 10, -10, 4, 16, -6, 8, -2, 12,
    18, 6, 24, 12, -4, 20, 22, 8, 2, 14, 4, -6,
    # 2009
    -10, -22, 0, -16, -4, -24, -8, -18, 2, 6, -8, 12,
    16, 4, -4, 10, 20, -6, 2, 14, -10, 12, 0, 18,
    6, 16, -4, 14, 2, 20, -6, 8, 22, 24, -18, 10,
    # 2010
    -10, -22, 2, -16, -4, -24, -8, -18, 6, 4, -12, 10,
    12, 0, -6, 6, 16, -4, 14, 2, 20, 8, 22, 24,
    18, 4, 12, 10, -6, 16, -4, -16, 6, -12, 4, -22,
    # 2011
    2, -10, 12, -18, -6, -24, -10, -20, 0, -4, -16, 4,
    -12, -22, -6, 4, -8, 12, 14, 2, 22, 8, 20, -4,
    18, 10, 2, -4, 6, -14, 2, -10, 10, -6, -18, 4,
    # 2012
    -16, -28, -8, -22, -12, -30, -18, -6, -26, -2, -14, 6,
    4, -10, 12, -6, 8, -12, 10, 2, 18, 4, 14, -6,
    12, 0, 16, -4, 8, 14, 6, -8, 2, -2, 10, -10,
    # 2013
    2, -10, 8, -6, 6, 12, 0, 10, -8, 8, -2, 14,
    4, 12, -4, 14, 6, 2, 10, 18, 4, 16, 8, 22,
    12, 20, 2, 6, 16, 22, 10, 20, 4, 18, 8, 14,
    # 2014
    4, 16, -6, 10, 2, 18, -4, 8, 14, 2, 12, -6,
    8, -2, 14, 4,
]

up_b = [
    # 1996
    16, 0, 22, 6, 13, -4, 8, -6, -16, -26, -10, -24,
    0, 14, -4, 8, -4, 18, 2, 14, -8, 12, -4, 16,
    6, 16, -10, 0, 10, -6, 14, -4, 6, 2, -12, 6,
    # 1997
    -16, -4, -26, -20, -8, -24, -28, -14, -4, -12, -22, 0,
    -16, -4, -2, -8, -26, -2, -12, 2, -20, 4, -6, -16,
    0, 10, -8, 4, 14, -2, 10, -2, 8, 2, 12, -8,
    # 1998
    6, -6, 16, -2, 10, 0, 12, -4, 4, 8, -10, 12,
    4, 14, -6, 10, -2, 18, 14, 2, 16, 18, 6, 20,
    4, 22, 12, 14, 24, 2, 20, 8, 22, 10, 22, 12,
    # 1999
    18, 4, 20, 0, 12, -4, -10, -20, -8, -22, -14, -28,
    -18, -26, -8, -24, -14, -32, -8, -20, -4, -4, -14, 8,
    4, 14, -10, 8, 22, -4, 12, -2, 16, 6, 18, 0,
    # 2000
    10, -4, 14, -10, -26, -12, -18, -24, -6, -28, -12, -26,
    0, 8, -14, 4, -8, 14, -6, 12, -2, 6, 16, -6,
    12, 22, 2, 16, 4, 20, 22, 8, 26, 6, 16, 26,
    # 2001
    14, 0, 18, 4, 20, -2, 10, -8, 24, 2, -4, 10,
    16, 2, -10, 6, 20, 2, 12, -2, 16, 8, 20, -4,
    14, 2, 24, 6, 18, -8, 12, 0, 24, 14, 2, 18,
    # 2002
    -12, -4, -22, -8, -16, -2, -6, 4, -16, 2, 10, -10,
    4, 14, -8, 8, 18, -4, 14, 2, 18, 20, 8, 22,
    12, 26, 0, 18, 6, 22, 10, 26, -2, 14, 2, 24,
    # 2003
    8, -4, 20, 4, -2, 14, 8, 12, -4, 12, 0, 22,
    8, -10, 18, 2, 14, -4, 18, 8, 26, 10, 22, 0,
    14, 2, 22, -4, -14, -24, -10, 0, -20, -14, -2, -22,
    # 2004
    -8, -18, 4, -14, -26, -4, -18, -8, 2, -8, 4, -12,
    0, -12, 12, 4, 14, -10, 10, -2, 20, 14, 2, 4,
    8, 22, -4, 12, 0, 20, 14, 4, 16, 10, -2, 6,
    # 2005
    -10, 0, -20, -6, -14, 8, 0, -18, 2, 4, -10, 12,
    -2, 6, -14, 2, -10, 12, -4, 6, -8, 4, 14, -6,
    10, 0, 20, 8, 18, -2, 14, 2, 20, 6, -4, 16,
    # 2006
    -6, -18, -28, -12, -2, -26, -8, 2, -20, -2, 12, -14,
    4, -6, 12, 4, 14, -10, 10, 0, 18, 14, -2, 24,
    6, 18, 0, 12, 22, -2, -2, -14, 8, -20, -8, -30,
    # 2007
    -14, -26, -2, -10, -22, 6, -4, -14, 8, 2, 14, -10,
    8, -2, 16, 4, 14, -6, 10, 20, 2, 20, 6, 24,
    14, 2, 26, 0, -10, 8, -12, -24, -2, -18, -6, -28,
    # 2008
    -10, -22, 2, -6, -16, 6, -20, -10, 0, -6, 4, -18,
    0, 14, -12, 2, 14, -6, 10, -2, 20, 2, 14, -8,
    12, 22, 0, 6, 16, 26, 14, 4, 18, 8, 20, -2,
    # 2009
    -16, -4, -26, -10, -20, 4, -14, -2, -22, 0, 14, -12,
    10, -2, 20, 4, 14, -4, 8, -4, 18, 6, 16, -6,
    12, 0, 20, 8, 18, -6, 2, 14, -12, 16, -8, 4,
    # 2010
    -16, -4, -26, -10, -20, 2, -14, 0, -22, -2, 8, -16,
    6, 18, -4, 10, 0, 20, 8, 18, -6, 14, 2, 18,
    10, 22, -4, 4, 20, -10, 0, -10, 12, -6, -18, 6,
    # 2011
    -4, 6, -16, -12, 2, -20, -14, -4, -24, -10, 2, -20,
    -16, -2, -26, -2, 8, -14, 8, 18, -6, 14, 2, 24,
    14, -4, 6, 2, -8, 10, -4, 6, -16, -12, 0, -22,
    # 2012
    -22, -10, -32, -18, -26, -6, -12, -22, 0, -8, 2, -18,
    -4, 8, -14, 0, 12, -6, 6, 14, -4, 10, -2, 18,
    6, 16, -4, 2, 10, -10, 0, 12, -4, 4, -6, 14,
    # 2013
    -4, 6, -14, 0, 10, -10, 4, -4, 14, 2, 12, -6,
    8, 0, 16, 10, -2, 18, 14, 6, 22, 10, 18, 2,
    16, 6, 20, 12, 2, 18, 14, 6, 24, 12, 22, 4,
    # 2014
    10, 0, 20, 6, 14, -4, 2, 18, -8, 8, 16, -2,
    4, 12, -10, 10,
]

# typical 1-sigma per calendar year 1996..2014 (mm)
north_sig = [2.6, 2.5, 2.4, 2.8, 2.5, 2.4, 2.3, 2.3, 2.3, 2.2, 2.2, 2.2, 2.3, 2.2, 2.2, 2.2, 2.2, 2.1, 2.2]
east_sig = [3.3, 3.3, 3.2, 3.8, 3.6, 3.5, 3.4, 3.3, 3.2, 3.1, 3.1, 3.1, 3.1, 3.1, 3.0, 3.0, 3.0, 2.9, 2.9]
up_sig = [8.5, 8.5, 8.2, 9.0, 8.5, 8.2, 8.0, 8.0, 7.8, 7.8, 7.8, 7.8, 7.8, 7.8, 7.8, 7.6, 7.6, 7.5, 7.5]

# isolated points far from the band: epoch, value, sigma
north_out_t = [1996.03, 1996.04, 1996.38, 1996.6, 1996.65, 1996.95, 1997.47, 1998.02, 1998.4, 1998.77,
               1999.15, 1999.2, 1999.28, 1999.5, 1999.55, 1999.6, 1999.7, 1999.88, 2000.15, 2000.35,
               2000.65, 2000.75, 2000.85, 2001.6, 2001.85, 2002.93, 2002.99, 2003.3, 2003.66, 2003.75,
               2004.22, 2005.3, 2006.5, 2006.6, 2007.0, 2007.02, 2007.7, 2007.72, 2008.7, 2008.85,
               2009.5, 2009.7, 2009.9, 2011.5, 2011.8, 2012.45, 2013.38, 2013.46, 2013.95, 2014.05,
               2014.24, 2014.32, 2014.35]
north_out_y = [-7.2, 4.3, -3.0, 4.8, -5.7, -5.2, 3.9, -8.6, 4.8, -7.2,
               -8.2, 5.5, 9.1, 10.0, 2.0, 6.1, -6.6, -5.6, 1.0, 5.5,
               -5.1, -9.6, 5.4, 6.2, -6.9, -9.5, 6.9, -5.6, 6.3, -5.7,
               6.2, -5.3, 5.4, 5.9, 7.8, -7.8, -9.9, -7.3, -7.8, 6.2,
               6.0, 6.0, 6.0, 8.3, 6.2, -5.3, 8.7, 7.7, -5.3, -6.1,
               8.5, -2.5, -7.0]
north_out_s = [2.5, 2.4, 12.0, 2.5, 3.8, 2.8, 2.0, 3.5, 2.3, 2.8,
               4.0, 2.5, 3.5, 4.0, 10.0, 3.0, 3.0, 2.6, 9.0, 2.8,
               2.5, 3.0, 2.6, 2.8, 3.0, 4.0, 3.0, 2.4, 2.6, 2.6,
               2.6, 2.0, 2.2, 2.4, 3.0, 3.5, 4.0, 3.0, 3.0, 2.5,
               2.4, 2.4, 2.8, 3.0, 2.4, 3.0, 3.0, 3.0, 2.5, 2.4,
               2.5, 10.0, 3.5]

east_out_t = [1996.05, 1996.38, 1996.95, 1997.05, 1997.3, 1998.0, 1998.99, 1999.5, 1999.6, 1999.62,
              2000.2, 2000.6, 2000.9, 2001.55, 2001.65, 2001.7, 2002.0, 2002.75, 2004.0, 2004.05,
              2006.7, 2007.05, 2007.15, 2007.2, 2008.0, 2008.95, 2009.4, 2009.6, 2010.15, 2011.5,
              2011.55, 2012.05, 2012.07, 2012.75, 2012.85, 2012.9, 2013.2]
east_out_y = [-5.1, -1.0, -5.5, 7.4, 7.4, 8.1, 8.9, 8.2, 7.9, 7.5,
              -9.9, 7.5, 7.9, 8.9, 6.1, -9.4, 6.6, 2.5, -6.9, 10.0,
              10.0, 9.9, -7.4, -8.2, 9.5, 9.1, 9.0, -8.8, -6.2, 8.5,
              9.7, 7.7, 7.1, 7.6, -8.8, -9.0, -6.0]
east_out_s = [3.0, 12.0, 2.5, 3.0, 3.0, 3.0, 3.5, 4.0, 4.0, 4.0,
              4.0, 3.0, 3.0, 3.5, 3.0, 3.0, 3.0, 5.0, 2.5, 3.0,
              3.0, 3.5, 4.0, 4.0, 3.0, 3.0, 3.0, 4.0, 3.0, 3.0,
              3.5, 3.0, 3.0, 3.0, 4.0, 4.0, 3.0]

up_out_t = [1996.05, 1996.25, 1996.27, 1996.3, 1997.15, 1997.2, 1998.8, 1999.4, 2000.2, 2000.25,
            2000.65, 2000.8, 2001.6, 2002.9, 2003.2, 2004.0, 2004.9, 2004.92, 2006.0, 2006.9,
            2007.0, 2007.6, 2008.3, 2008.95, 2009.0, 2009.2, 2009.46, 2009.94, 2011.7, 2012.2,
            2012.22, 2012.9, 2013.4, 2013.45, 2014.1, 2014.17, 2014.24]
up_out_y = [28, -34, -30, -25, -39, -32, 29, -34, -37, -35,
            31, 31, -33, 28, 30, -26, 33, 25, -36, -35,
            -30, 39, -27, 37, -33, -30, 28, -37, 30, -32,
            -34, -27, -27, -27, -15, 38, -31]
up_out_s = [8, 9, 8, 8, 10, 9, 8, 9, 9, 9,
            8, 8, 10, 8, 8, 8, 9, 8, 9, 9,
            8, 9, 9, 9, 9, 8, 8, 9, 8, 9,
            9, 9, 9, 9, 9, 9, 9]

titles = ['Data ALBH.cwo.final_nam08 North', 'Data ALBH.cwo.final_nam08 East',
          'Data ALBH.cwo.final_nam08 Up']
stats = ['WRMS:    1.75 mm NRMS:  0.72 #:  6653 data  Rate:     4.15 +-    0.00 mm/yr',
         'WRMS:    2.98 mm NRMS:  1.17 #:  6653 data  Rate:     6.79 +-    0.01 mm/yr',
         'WRMS:   10.38 mm NRMS:  1.32 #:  6653 data  Rate:     0.49 +-    0.02 mm/yr']
limits = [10, 10, 40]
steps = [2, 2, 10]
bounds = [5.3, 8.9, 31.0]
year_ticks = list(range(1996, 2015, 2))

series = [
    (north, north_b, north_sig, north_out_t, north_out_y, north_out_s),
    (east, east_b, east_sig, east_out_t, east_out_y, east_out_s),
    (up, up_b, up_sig, up_out_t, up_out_y, up_out_s),
]

fig = plt.figure(figsize=(11.35, 9.26), dpi=100)
bottoms = [0.6944, 0.3564, 0.0195]
gray = '#bebebe'

for i, (va, vb, sig_yr, ot, oy, os_) in enumerate(series):
    ax = fig.add_axes([0.0476, bottoms[i], 0.952, 0.2819])
    ta = 1996.0 + np.arange(len(va)) / 36.0
    tb = 1996.0 + 1.0 / 72 + np.arange(len(vb)) / 36.0
    t = np.concatenate([ta, tb])
    vals = np.concatenate([va, vb]).astype(float)
    sig = np.array(sig_yr)[np.clip((t - 1996).astype(int), 0, len(sig_yr) - 1)]
    tt = np.concatenate([t, ot])
    yy = np.concatenate([vals, oy])
    ss = np.concatenate([sig, os_])

    ax.errorbar(tt, yy, yerr=ss, fmt='none', ecolor=gray, elinewidth=1.0,
                capsize=4.7, capthick=1.0, zorder=1)
    ax.axhline(bounds[i], color='#3cf03c', lw=1.5, zorder=2)
    ax.axhline(-bounds[i], color='#3cf03c', lw=1.5, zorder=2)
    ax.plot(tt, yy, 'o', color='blue', ms=5.6, mec='none', zorder=3)
    ax.axhline(0, color='blue', lw=1.5, zorder=4)
    off = 0.004 * limits[i]
    ax.plot([ta[0], ta[-1]], [off, off], color='red', lw=1.5, zorder=5)

    ax.set_xlim(1995.08, 2015.3)
    ax.set_ylim(-limits[i], limits[i])
    ax.set_xticks(year_ticks)
    ax.set_yticks(np.arange(-limits[i], limits[i] + 1, steps[i]))
    ax.tick_params(direction='in', length=7, width=1, top=True, right=True,
                   labelsize=10)
    ax.tick_params(axis='x', pad=2)
    ax.tick_params(axis='y', pad=3, labelright=False)
    for sp in ax.spines.values():
        sp.set_linewidth(1.4)
    ax.set_ylabel('Position (mm)', fontsize=10, labelpad=6)
    ax.text(0.01, 1.004, stats[i], transform=ax.transAxes, fontsize=10,
            ha='left', va='bottom')
    ax.text(0.995, 1.004, titles[i], transform=ax.transAxes, fontsize=10,
            fontweight='bold', ha='right', va='bottom')

fig.savefig('out.png', dpi=100)
